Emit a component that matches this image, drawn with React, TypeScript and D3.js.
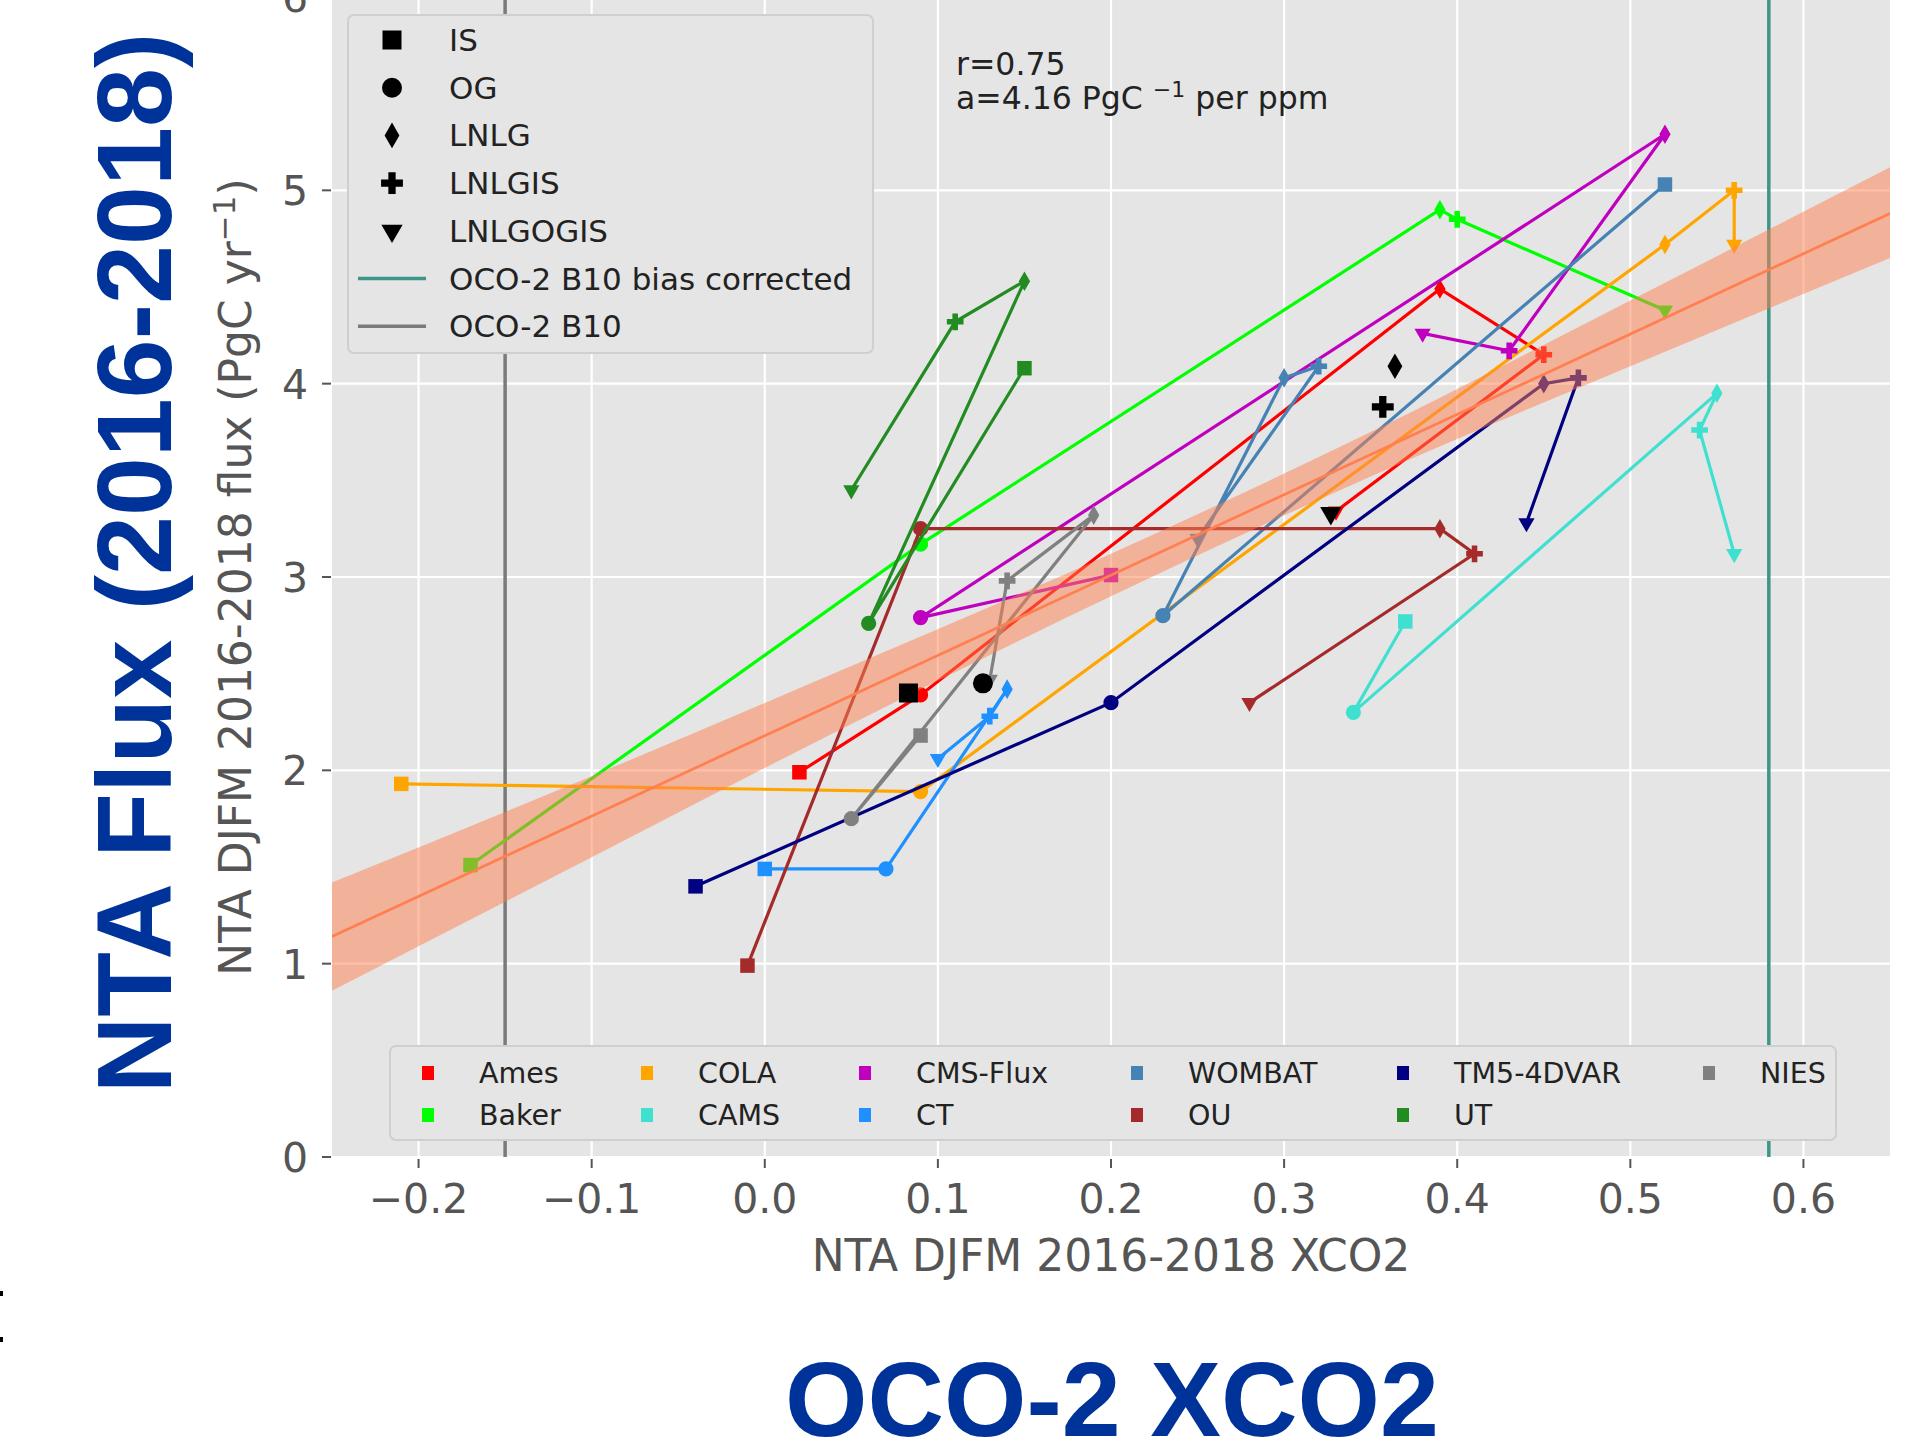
import React from "react";
import * as d3 from "d3";

// experiments, in the order each model's line is drawn
const experiments = ["IS", "OG", "LNLG", "LNLGIS", "LNLGOGIS"];

const models = ["Ames", "Baker", "COLA", "CAMS", "CMS-Flux", "CT", "WOMBAT", "OU", "TM5-4DVAR", "UT", "NIES"];
const modelColors = ["#ff0000", "#00ff00", "#ffa500", "#40e0d0", "#bf00bf", "#1e90ff", "#4682b4", "#a52a2a", "#000080", "#228b22", "#808080"];

// NTA DJFM 2016-2018 XCO2 (x) and flux (y) per model, one value per experiment
const amesXco2 = [0.02, 0.09, 0.39, 0.45, 0.33];
const amesFlux = [1.99, 2.39, 4.49, 4.15, 3.34];
const bakerXco2 = [-0.17, 0.09, 0.39, 0.4, 0.52];
const bakerFlux = [1.51, 3.17, 4.9, 4.85, 4.38];
const colaXco2 = [-0.21, 0.09, 0.52, 0.56, 0.56];
const colaFlux = [1.93, 1.89, 4.72, 5.0, 4.72];
const camsXco2 = [0.37, 0.34, 0.55, 0.54, 0.56];
const camsFlux = [2.77, 2.3, 3.95, 3.76, 3.12];
const cmsXco2 = [0.2, 0.09, 0.52, 0.43, 0.38];
const cmsFlux = [3.01, 2.79, 5.29, 4.17, 4.26];
const ctXco2 = [0.0, 0.07, 0.14, 0.13, 0.1];
const ctFlux = [1.49, 1.49, 2.42, 2.28, 2.06];
const wombatXco2 = [0.52, 0.23, 0.3, 0.32, 0.25];
const wombatFlux = [5.03, 2.8, 4.03, 4.09, 3.2];
const ouXco2 = [-0.01, 0.09, 0.39, 0.41, 0.28];
const ouFlux = [0.99, 3.25, 3.25, 3.12, 2.35];
const tm5Xco2 = [-0.04, 0.2, 0.45, 0.47, 0.44];
const tm5Flux = [1.4, 2.35, 4.0, 4.03, 3.28];
const utXco2 = [0.15, 0.06, 0.15, 0.11, 0.05];
const utFlux = [4.08, 2.76, 4.53, 4.32, 3.45];
const niesXco2 = [0.09, 0.05, 0.19, 0.14, 0.13];
const niesFlux = [2.18, 1.75, 3.32, 2.98, 2.47];

const modelXco2 = [amesXco2, bakerXco2, colaXco2, camsXco2, cmsXco2, ctXco2, wombatXco2, ouXco2, tm5Xco2, utXco2, niesXco2];
const modelFlux = [amesFlux, bakerFlux, colaFlux, camsFlux, cmsFlux, ctFlux, wombatFlux, ouFlux, tm5Flux, utFlux, niesFlux];

// ensemble mean per experiment (black markers)
const meanXco2 = [0.083, 0.126, 0.364, 0.357, 0.327];
const meanFlux = [2.4, 2.45, 4.09, 3.88, 3.33];

// regression line and its band
const fitXco2 = [-0.25, 0.65];
const fitFlux = [1.14, 4.88];
const bandXco2 = [-0.25, -0.1, 0.05, 0.2, 0.35, 0.5, 0.65];
const bandLow = [0.86, 1.55, 2.24, 2.9, 3.52, 4.09, 4.65];
const bandHigh = [1.42, 1.97, 2.54, 3.12, 3.75, 4.43, 5.12];

// OCO-2 reference values
const refLabels = ["OCO-2 B10 bias corrected", "OCO-2 B10"];
const refXco2 = [0.58, -0.15];
const refColors = ["#3d9688", "#7a7a7a"];

const xTicks = [-0.2, -0.1, 0.0, 0.1, 0.2, 0.3, 0.4, 0.5, 0.6];
const yTicks = [0, 1, 2, 3, 4, 5, 6];

const W = 1927;
const H = 1445;
const left = 332;
const right = 1890;
const top = -3;
const bottom = 1157;

const x = d3.scaleLinear().domain([-0.25, 0.65]).range([left, right]);
const y = d3.scaleLinear().domain([0, 6]).range([bottom, top]);

// marker shapes: s, o, d, P, v
const symbolTypes = [d3.symbolSquare, d3.symbolCircle, d3.symbolDiamond, d3.symbolCross, d3.symbolTriangle];
const areaFactor = [1, Math.PI / 4, 0.2887, 0.5556, 0.433];
const sizeFactor = [1, 1.05, 1.35, 1.15, 1.12];

function markerPath(i: number, s: number) {
  const k = s * sizeFactor[i];
  return d3.symbol(symbolTypes[i], areaFactor[i] * k * k)() as string;
}

function Marker({ i, cx, cy, s, fill }: { i: number; cx: number; cy: number; s: number; fill: string }) {
  const rot = i === 4 ? " rotate(180)" : "";
  return <path d={markerPath(i, s)} transform={`translate(${cx},${cy})${rot}`} fill={fill} />;
}

const fmtX = (v: number) => d3.format(".1f")(v).replace("-", "\u2212");

const font = "'DejaVu Sans', sans-serif";
const tickColor = "#555555";

// bottom legend layout
const legendColX = [428, 647, 865, 1137, 1403, 1709];
const legendRowY = [1073, 1115];

export default function App() {
  const line = (xs: number[], ys: number[]) =>
    d3
      .line<string>()
      .x((_, i) => x(xs[i]))
      .y((_, i) => y(ys[i]))(experiments) as string;

  const band = d3
    .area<number>()
    .x((d) => x(d))
    .y0((_, i) => y(bandLow[i]))
    .y1((_, i) => y(bandHigh[i]))
    .curve(d3.curveMonotoneX)(bandXco2) as string;

  const fitLine = d3
    .line<number>()
    .x((d) => x(d))
    .y((_, i) => y(fitFlux[i]))(fitXco2) as string;

  return (
    <div style={{ position: "absolute", left: 0, top: 0 }}>
      <svg width={W} height={H} style={{ display: "block", background: "#fff" }}>
        <defs>
          <clipPath id="plot">
            <rect x={left} y={top} width={right - left} height={bottom - top} />
          </clipPath>
        </defs>

        {/* axes background and grid */}
        <rect x={left} y={top} width={right - left} height={bottom - top} fill="#e5e5e5" />
        {xTicks.map((t) => (
          <line key={"gx" + t} x1={x(t)} x2={x(t)} y1={top} y2={bottom} stroke="#fff" strokeWidth={2.2} />
        ))}
        {yTicks.map((t) => (
          <line key={"gy" + t} x1={left} x2={right} y1={y(t)} y2={y(t)} stroke="#fff" strokeWidth={2.2} />
        ))}

        <g clipPath="url(#plot)">
          {refXco2.map((v, i) => (
            <line key={"ref" + i} x1={x(v)} x2={x(v)} y1={top} y2={bottom} stroke={refColors[i]} strokeWidth={3.5} />
          ))}

          {models.map((m, mi) => (
            <g key={m}>
              <path d={line(modelXco2[mi], modelFlux[mi])} fill="none" stroke={modelColors[mi]} strokeWidth={3.2} />
              {experiments.map((e, ei) => (
                <Marker key={e} i={ei} cx={x(modelXco2[mi][ei])} cy={y(modelFlux[mi][ei])} s={14.5} fill={modelColors[mi]} />
              ))}
            </g>
          ))}

          <path d={band} fill="#ff7f50" fillOpacity={0.5} />
          <path d={fitLine} fill="none" stroke="#ff7f50" strokeWidth={2.7} />

          {experiments.map((e, ei) => (
            <Marker key={"mean" + e} i={ei} cx={x(meanXco2[ei])} cy={y(meanFlux[ei])} s={19} fill="#000" />
          ))}
        </g>

        {/* x axis */}
        {xTicks.map((t) => (
          <g key={"xt" + t}>
            <line x1={x(t)} x2={x(t)} y1={bottom + 2} y2={bottom + 11} stroke={tickColor} strokeWidth={2} />
            <text x={x(t)} y={1213} textAnchor="middle" fontFamily={font} fontSize={41} fill={tickColor}>
              {fmtX(t)}
            </text>
          </g>
        ))}
        <text x={(left + right) / 2} y={1271} textAnchor="middle" fontFamily={font} fontSize={44} fill={tickColor}>
          NTA DJFM 2016-2018 XCO2
        </text>

        {/* y axis */}
        {yTicks.map((t) => (
          <g key={"yt" + t}>
            <line x1={left - 10} x2={left - 1} y1={y(t)} y2={y(t)} stroke={tickColor} strokeWidth={2} />
            <text x={308} y={y(t) + 15} textAnchor="end" fontFamily={font} fontSize={41} fill={tickColor}>
              {t}
            </text>
          </g>
        ))}
        <text
          transform={`translate(251,${(top + bottom) / 2}) rotate(-90)`}
          textAnchor="middle"
          fontFamily={font}
          fontSize={44}
          fill={tickColor}
        >
          NTA DJFM 2016-2018 flux (PgC yr
          <tspan dy={-16} fontSize={31}>
            {"\u22121"}
          </tspan>
          <tspan dy={16}>)</tspan>
        </text>

        {/* fit annotation */}
        <text x={956} y={75} fontFamily={font} fontSize={31.5} fill="#222">
          r=0.75
        </text>
        <text x={956} y={109} fontFamily={font} fontSize={31.5} fill="#222">
          a=4.16 PgC{" "}
          <tspan dy={-12} fontSize={22}>
            {"\u22121"}
          </tspan>
          <tspan dy={12}> per ppm</tspan>
        </text>

        {/* experiment legend */}
        <rect x={348} y={15} width={525} height={338} rx={6} fill="#e5e5e5" stroke="#cfcfcf" strokeWidth={2} />
        {experiments.map((e, ei) => {
          const cy = 40 + ei * 47.7;
          return (
            <g key={"le" + e}>
              <Marker i={ei} cx={392} cy={cy} s={19} fill="#000" />
              <text x={449} y={cy + 11} fontFamily={font} fontSize={31} fill="#222">
                {e}
              </text>
            </g>
          );
        })}
        {refLabels.map((lab, i) => {
          const cy = 40 + (experiments.length + i) * 47.7;
          return (
            <g key={"lr" + i}>
              <line x1={358} x2={426} y1={cy} y2={cy} stroke={refColors[i]} strokeWidth={3.5} />
              <text x={449} y={cy + 11} fontFamily={font} fontSize={31} fill="#222">
                {lab}
              </text>
            </g>
          );
        })}

        {/* model legend */}
        <rect x={390} y={1046} width={1446} height={94} rx={6} fill="#e5e5e5" stroke="#cfcfcf" strokeWidth={2} />
        {models.map((m, mi) => {
          const col = Math.floor(mi / 2);
          const row = mi % 2;
          const cx = legendColX[col];
          const cy = legendRowY[row];
          return (
            <g key={"lm" + m}>
              <rect x={cx - 6} y={cy - 7} width={12} height={14} fill={modelColors[mi]} />
              <text x={cx + 51} y={cy + 10} fontFamily={font} fontSize={28.5} fill="#222">
                {m}
              </text>
            </g>
          );
        })}

        {/* slide titles */}
        <text
          transform="translate(171,563) rotate(-90)"
          textAnchor="middle"
          fontFamily="'Liberation Sans', Arial, sans-serif"
          fontWeight="bold"
          fontSize={106}
          fill="#003399"
        >
          NTA Flux (2016-2018)
        </text>
        <text
          x={1112}
          y={1436}
          textAnchor="middle"
          fontFamily="'Liberation Sans', Arial, sans-serif"
          fontWeight="bold"
          fontSize={106}
          fill="#003399"
        >
          OCO-2 XCO2
        </text>
        <rect x={0} y={1291} width={3} height={5} fill="#000" />
        <rect x={0} y={1337} width={3} height={5} fill="#000" />
      </svg>
    </div>
  );
}
